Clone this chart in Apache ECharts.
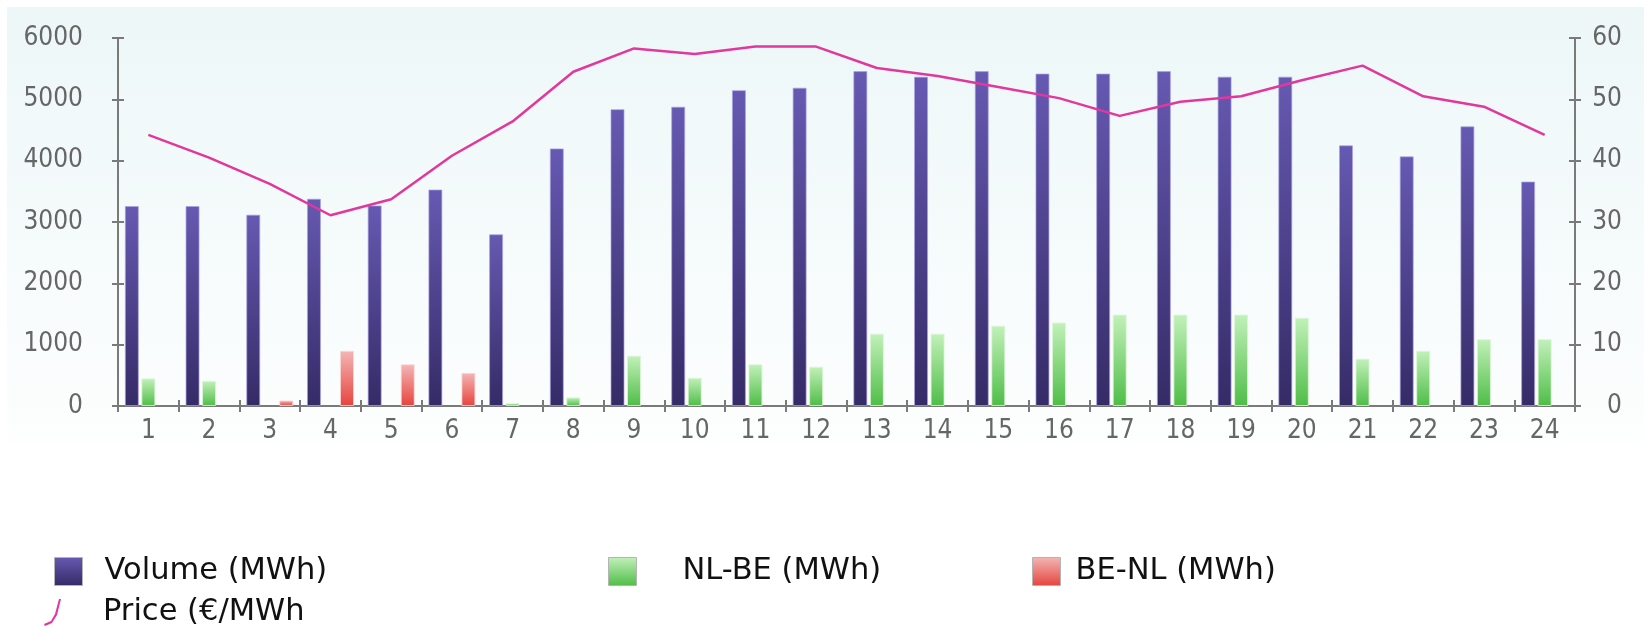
<!DOCTYPE html>
<html>
<head>
<meta charset="utf-8">
<title>Volume and price per hour</title>
<script src="https://cdn.jsdelivr.net/npm/echarts@6/dist/echarts.min.js"></script>
<style>
  html, body { margin: 0; padding: 0; background: #ffffff; }
  #chart { width: 1644px; height: 626px; }
</style>
</head>
<body>
<div id="chart"></div>
<script>
// Hours of the day
const hours = ['1','2','3','4','5','6','7','8','9','10','11','12','13','14','15','16','17','18','19','20','21','22','23','24'];

// Traded volume (MWh)
const volume = [3260, 3260, 3120, 3380, 3270, 3530, 2800, 4200, 4840, 4880, 5150, 5190,
                5460, 5370, 5460, 5420, 5420, 5460, 5370, 5370, 4250, 4070, 4560, 3660];

// Flow NL -> BE (MWh)
const nlBe = [450, 410, '-', '-', '-', '-', 45, 140, 820, 460, 680, 640,
              1180, 1180, 1310, 1360, 1490, 1490, 1490, 1440, 770, 900, 1090, 1090];

// Flow BE -> NL (MWh)
const beNl = ['-', '-', 90, 900, 680, 540, '-', '-', '-', '-', '-', '-',
              '-', '-', '-', '-', '-', '-', '-', '-', '-', '-', '-', '-'];

// Price (EUR/MWh)
const price = [44.2, 40.5, 36.2, 31.1, 33.7, 40.8, 46.4, 54.5, 58.3, 57.4, 58.6, 58.6,
               55.1, 53.8, 52.0, 50.2, 47.3, 49.6, 50.5, 53.1, 55.5, 50.5, 48.8, 44.2];

// Axis scales
const volumeAxis = { min: 0, max: 6000, interval: 1000 };
const priceAxis = { min: 0, max: 60, interval: 10 };

const names = ['Volume (MWh)', 'NL-BE (MWh)', 'BE-NL (MWh)', 'Price (€/MWh'];

const axisGrey = '#7a7a7a';
const labelFont = {
  color: '#666666',
  fontFamily: '"DejaVu Sans Condensed", "DejaVu Sans", sans-serif',
  fontSize: 26
};

function plain(v) { return String(v); }

function vGrad(top, bottom) {
  return new echarts.graphic.LinearGradient(0, 0, 0, 1, [
    { offset: 0, color: top },
    { offset: 1, color: bottom }
  ]);
}

// value axis with outward ticks and labels, or a bare inward tick set
function valueAxis(scale, pos, inner, labelOpts) {
  return {
    type: 'value',
    position: pos,
    min: scale.min,
    max: scale.max,
    interval: scale.interval,
    splitLine: { show: false },
    axisLine: { show: !inner, lineStyle: { color: axisGrey, width: 2 } },
    axisTick: { show: true, inside: inner, length: 6, lineStyle: { color: axisGrey, width: 2 } },
    axisLabel: inner ? { show: false } : labelOpts
  };
}

const legendFont = {
  color: '#111111',
  fontFamily: '"DejaVu Sans", sans-serif',
  fontSize: 30.5
};

function legendItem(name, left, top, gap, extra) {
  return Object.assign({
    data: [name],
    left: left,
    top: top,
    orient: 'horizontal',
    padding: 0,
    icon: 'rect',
    itemWidth: 28,
    itemHeight: 28,
    selectedMode: false,
    itemStyle: { borderColor: '#b4b4b4', borderWidth: 1 },
    textStyle: Object.assign({ padding: [0, 0, 0, gap] }, legendFont)
  }, extra || {});
}

const chart = echarts.init(document.getElementById('chart'), null, { renderer: 'canvas' });

chart.setOption({
  animation: false,
  backgroundColor: '#ffffff',
  graphic: [{
    type: 'rect',
    z: -10,
    silent: true,
    shape: { x: 7, y: 7, width: 1637, height: 435 },
    style: { fill: vGrad('#edf7f8', '#fdfefe') }
  }],
  grid: { left: 118, top: 38, width: 1457, height: 368, containLabel: false },
  legend: [
    legendItem(names[0], 54, 556, 17),
    legendItem(names[1], 608, 556, 41),
    legendItem(names[2], 1032, 556, 10),
    legendItem(names[3], 44, 597, 32, {
      icon: 'path://M0,27 L7,24 L11,17 L15,2 L17,2 L13,18 L8,26 L1,29 Z',
      itemWidth: 27,
      itemHeight: 27,
      itemStyle: { borderWidth: 0 }
    })
  ],
  xAxis: [
    {
      type: 'category',
      data: hours,
      position: 'bottom',
      boundaryGap: true,
      axisLine: { show: true, lineStyle: { color: axisGrey, width: 2 } },
      axisTick: { show: true, inside: false, length: 6, interval: 0, lineStyle: { color: axisGrey, width: 2 } },
      axisLabel: Object.assign({ interval: 0, margin: 12 }, labelFont),
      splitLine: { show: false }
    },
    {
      type: 'category',
      data: hours,
      position: 'bottom',
      boundaryGap: true,
      axisLine: { show: false },
      axisTick: { show: true, inside: true, length: 6, interval: 0, lineStyle: { color: axisGrey, width: 2 } },
      axisLabel: { show: false },
      splitLine: { show: false }
    }
  ],
  yAxis: [
    valueAxis(volumeAxis, 'left', false, Object.assign({ margin: 35, formatter: plain }, labelFont)),
    valueAxis(priceAxis, 'right', false, Object.assign({ margin: 47, align: 'right', formatter: plain }, labelFont)),
    valueAxis(volumeAxis, 'left', true),
    valueAxis(priceAxis, 'right', true)
  ],
  series: [
    {
      name: names[0],
      type: 'bar',
      xAxisIndex: 0,
      yAxisIndex: 0,
      data: volume,
      barWidth: 14,
      barGap: '18%',
      itemStyle: {
        color: vGrad('#6659b2', '#352b66'),
        borderColor: 'rgba(170,160,225,0.7)',
        borderWidth: 1
      }
    },
    {
      name: names[1],
      type: 'bar',
      xAxisIndex: 0,
      yAxisIndex: 0,
      data: nlBe,
      barWidth: 14,
      barGap: '18%',
      itemStyle: {
        color: vGrad('#c2f1ba', '#4fbd47'),
        borderColor: 'rgba(220,245,215,0.8)',
        borderWidth: 1
      }
    },
    {
      name: names[2],
      type: 'bar',
      xAxisIndex: 0,
      yAxisIndex: 0,
      data: beNl,
      barWidth: 14,
      barGap: '18%',
      itemStyle: {
        color: vGrad('#f3b6b6', '#e6443c'),
        borderColor: 'rgba(250,215,215,0.8)',
        borderWidth: 1
      }
    },
    {
      name: names[3],
      type: 'line',
      xAxisIndex: 0,
      yAxisIndex: 1,
      data: price,
      symbol: 'none',
      smooth: false,
      z: 5,
      itemStyle: { color: '#e2379c' },
      lineStyle: { color: '#e2379c', width: 2.5 }
    }
  ]
});
</script>
</body>
</html>
